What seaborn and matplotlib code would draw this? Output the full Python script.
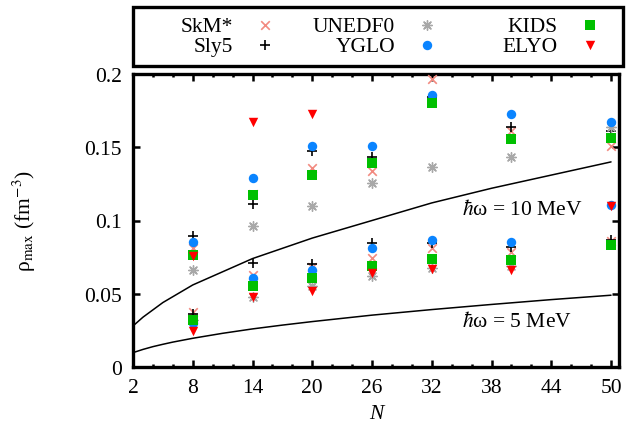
import numpy as np
import pandas as pd
import matplotlib
matplotlib.use('Agg')
import matplotlib.pyplot as plt
from matplotlib.patches import Rectangle
from matplotlib.ticker import MultipleLocator, FixedLocator, FormatStrFormatter
import seaborn as sns

nan = np.nan

# neutron numbers of the computed drops
n_values = [8, 14, 20, 26, 32, 40, 50]

# rho_max (fm^-3) for each functional, two branches per N
skm_upper = [0.081, 0.118, 0.1356, 0.134, 0.1966, 0.1613, 0.1506]
skm_lower = [0.0377, 0.063, 0.068, 0.0742, 0.081, 0.0783, 0.086]
sly5_upper = [0.0892, 0.111, 0.1477, 0.1431, 0.184, 0.1636, 0.161]
sly5_lower = [0.036, 0.071, 0.0703, 0.0844, 0.0846, 0.0817, 0.087]
unedf0_upper = [0.0662, 0.096, 0.1097, 0.1254, 0.1363, 0.1431, 0.164]
unedf0_lower = [0.032, 0.048, 0.0555, 0.0623, 0.0673, 0.0691, nan]
yglo_upper = [0.0851, 0.129, 0.1506, 0.1506, 0.1857, 0.1727, 0.1675]
yglo_lower = [0.030, 0.0607, 0.0664, 0.0812, 0.0869, 0.0851, 0.1106]
kids_upper = [0.0765, 0.1174, 0.131, 0.1392, 0.180, 0.1556, 0.1563]
kids_lower = [0.032, 0.0551, 0.0605, 0.0691, 0.0737, 0.073, 0.0833]
elyo_upper = [0.076, 0.167, 0.1727, nan, nan, nan, nan]
elyo_lower = [0.0244, 0.048, 0.0517, 0.0642, 0.0666, 0.0664, 0.110]

# harmonic-oscillator reference curves
curve_n = [2, 3, 4, 5, 6, 8, 11, 14, 17, 20, 26, 32, 38, 44, 50]
curve_10mev = [0.028, 0.034, 0.039, 0.044, 0.048, 0.056, 0.065, 0.074, 0.081,
               0.088, 0.100, 0.112, 0.122, 0.131, 0.140]
curve_5mev = [0.0098, 0.012, 0.0139, 0.0155, 0.017, 0.0196, 0.023, 0.026, 0.0286,
              0.031, 0.0354, 0.0392, 0.0427, 0.046, 0.049]

x_ticks = [2, 8, 14, 20, 26, 32, 38, 44, 50]

models = ['SkM*', 'Sly5', 'UNEDF0', 'YGLO', 'KIDS', 'ELYO']
upper = [skm_upper, sly5_upper, unedf0_upper, yglo_upper, kids_upper, elyo_upper]
lower = [skm_lower, sly5_lower, unedf0_lower, yglo_lower, kids_lower, elyo_lower]

styles = {
    'SkM*': dict(marker='x', color='#f28a80', s=38, linewidth=1.2),
    'Sly5': dict(marker='+', color='black', s=48, linewidth=1.2),
    'UNEDF0': dict(marker=(8, 2, 0), color='#a8a8a8', s=48, linewidth=1.0),
    'YGLO': dict(marker='o', color='#0a84ff', s=46, linewidth=0),
    'KIDS': dict(marker='s', color='#00c000', s=44, linewidth=0),
    'ELYO': dict(marker='v', color='#ff0000', s=46, linewidth=0),
}

rows = []
for name, up, lo in zip(models, upper, lower):
    for n, a, b in zip(n_values, up, lo):
        rows.append((name, n, a))
        rows.append((name, n, b))
df = pd.DataFrame(rows, columns=['model', 'N', 'rho']).dropna()

sns.set_theme(style='ticks', rc={'axes.edgecolor': 'black', 'xtick.color': 'black',
                                 'ytick.color': 'black', 'text.color': 'black',
                                 'axes.labelcolor': 'black'})
plt.rcParams['font.family'] = ['Liberation Serif', 'DejaVu Serif']
plt.rcParams['mathtext.fontset'] = 'stix'
plt.rcParams['font.size'] = 15.5

fig = plt.figure(figsize=(6.26, 4.35), dpi=100)
ax = fig.add_axes([133 / 626, 1 - 368 / 435, 486 / 626, 293 / 435])

sns.lineplot(x=curve_n, y=curve_10mev, color='black', linewidth=1.1, ax=ax)
sns.lineplot(x=curve_n, y=curve_5mev, color='black', linewidth=1.1, ax=ax)

for name in models:
    sub = df[df['model'] == name]
    sns.scatterplot(data=sub, x='N', y='rho', label=name, ax=ax, zorder=3,
                    **styles[name])

handles, labels = ax.get_legend_handles_labels()
if ax.get_legend() is not None:
    ax.get_legend().remove()

ax.set_xlim(2, 50.8)
ax.set_ylim(0, 0.2)
ax.xaxis.set_major_locator(FixedLocator(x_ticks))
ax.xaxis.set_minor_locator(MultipleLocator(2))
ax.yaxis.set_major_locator(MultipleLocator(0.05))
ax.yaxis.set_major_formatter(FormatStrFormatter('%g'))
ax.tick_params(which='both', direction='in', top=True, right=True, width=1.8,
               labelsize=15.5, pad=8)
ax.tick_params(which='major', length=5)
ax.tick_params(which='minor', length=2.5)
for sp in ax.spines.values():
    sp.set_linewidth(2.4)

ax.set_xlabel('N', fontstyle='italic', fontsize=15.5, labelpad=5)
ax.set_ylabel('ρ$_{\\rm max}$ (fm$^{-3}$)', fontsize=15.5)
ax.yaxis.set_label_coords(-0.195, 0.5)

ax.text(41.1, 0.108, '$\\hbar$ω = 10 MeV', ha='center', va='center', fontsize=15.5)
ax.text(40.6, 0.0314, '$\\hbar$ω = 5 MeV', ha='center', va='center', fontsize=15.5)

# gnuplot-style key: three columns, label then marker, in one box
col_right = [276, 438, 601]
for i, xr in enumerate(col_right):
    fig.legend(handles[2 * i:2 * i + 2], labels[2 * i:2 * i + 2],
               loc='center right', bbox_to_anchor=(xr / 626, 1 - 37 / 435),
               markerfirst=False, frameon=False, fontsize=15.5,
               handlelength=1.0, handletextpad=1.0, labelspacing=0.0,
               borderpad=0, borderaxespad=0, scatterpoints=1)
fig.add_artist(Rectangle((133 / 626, 1 - 67 / 435), 490 / 626, 59 / 435,
                         transform=fig.transFigure, fill=False,
                         edgecolor='black', linewidth=2.4))

fig.savefig('out.png', dpi=100)
